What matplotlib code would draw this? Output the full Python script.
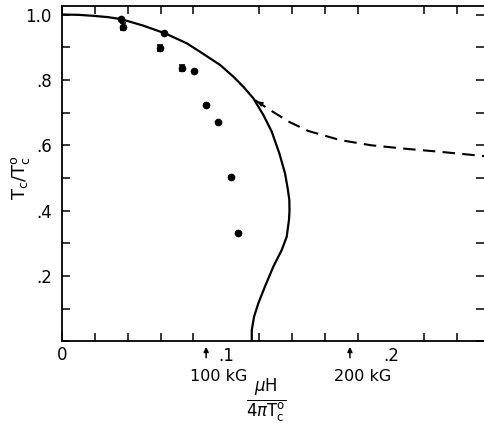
import matplotlib
matplotlib.use("Agg")
import matplotlib.pyplot as plt
from matplotlib.ticker import MultipleLocator, FixedLocator

# measured points
pts_x = [0.036, 0.0623, 0.0805, 0.0878, 0.0947, 0.1028, 0.1069]
pts_y = [0.987, 0.942, 0.827, 0.724, 0.672, 0.504, 0.333]
# points with error bars
err_x = [0.0372, 0.0599, 0.0729]
err_y = [0.963, 0.898, 0.836]
err_e = [0.011, 0.010, 0.010]

# theory curve (solid)
curve_x = [0.0, 0.0100, 0.0192, 0.0280, 0.036, 0.0495, 0.0627, 0.0759, 0.0840,
           0.0961, 0.1042, 0.1103, 0.1163, 0.1224, 0.1275, 0.1321, 0.1356,
           0.1372, 0.1382, 0.1383, 0.1380, 0.1366, 0.1336, 0.1285, 0.1234,
           0.1194, 0.1168, 0.1154, 0.1154]
curve_y = [1.0, 0.999, 0.996, 0.992, 0.986, 0.966, 0.9425, 0.912, 0.886,
           0.846, 0.810, 0.779, 0.744, 0.693, 0.642, 0.576, 0.514,
           0.468, 0.433, 0.400, 0.372, 0.320, 0.280, 0.229, 0.168,
           0.117, 0.076, 0.035, 0.005]

# dashed branch
dash_x = [0.1174, 0.1265, 0.138, 0.1496, 0.169, 0.188, 0.2075, 0.230, 0.2564]
dash_y = [0.738, 0.708, 0.672, 0.644, 0.616, 0.600, 0.590, 0.580, 0.567]

fig = plt.figure(figsize=(4.84, 4.23), dpi=100)
ax = fig.add_axes([0.1275, 0.1927, 0.8725, 0.7931])

ax.plot(curve_x, curve_y, color="black", lw=1.6, solid_joinstyle="round")
ax.plot(dash_x, dash_y, color="black", lw=1.5, ls=(0, (6, 3.5)))
ax.annotate("", xy=(dash_x[0], dash_y[0]), xytext=(0.1215, 0.726),
            arrowprops=dict(arrowstyle="-|>", color="black", lw=1.0,
                            mutation_scale=7))
ax.plot(pts_x, pts_y, "o", color="black", ms=4.5)
ax.errorbar(err_x, err_y, yerr=err_e, fmt="o", color="black", ms=4.5,
            capsize=2.5, elinewidth=1.2, capthick=1.2)

ax.set_xlim(0, 0.2564)
ax.set_ylim(0, 1.026)

ax.xaxis.set_major_locator(FixedLocator([0.1, 0.2]))
ax.xaxis.set_minor_locator(MultipleLocator(0.02))
ax.yaxis.set_major_locator(FixedLocator([0.2, 0.4, 0.6, 0.8, 1.0]))
ax.yaxis.set_minor_locator(MultipleLocator(0.1))
ax.set_xticklabels([".1", ".2"])
ax.set_yticklabels([".2", ".4", ".6", ".8", "1.0"])
ax.tick_params(which="both", direction="in", top=True, right=True,
               length=6, width=1.1, labelsize=12, pad=7)
ax.tick_params(axis="x", which="major", length=0, pad=4)
ax.tick_params(axis="x", which="minor", length=6)
ax.text(0, -0.015, "0", ha="center", va="top", fontsize=12,
        transform=ax.transData)
ax.spines["right"].set_visible(False)
for s in ["left", "bottom", "top"]:
    ax.spines[s].set_linewidth(1.3)

# field markers
for fx, lab in [(0.0877, "100 kG"), (0.175, "200 kG")]:
    ax.annotate("", xy=(fx, -0.008), xytext=(fx, -0.058),
                xycoords="data", textcoords="data",
                arrowprops=dict(arrowstyle="-|>", color="black", lw=1.1,
                                mutation_scale=7), annotation_clip=False)
    ax.text(fx + 0.0075, -0.085, lab, ha="center", va="top", fontsize=11.5,
            transform=ax.transData)

fig.text(0.55, 0.052, r"$\frac{\mu\mathrm{H}}{4\pi\mathrm{T}_\mathrm{c}^\mathrm{o}}$",
         ha="center", va="center", fontsize=17)
fig.text(0.042, 0.58, r"$\mathrm{T_c/T_c^o}$", ha="center", va="center",
         rotation=90, fontsize=13)

fig.savefig("out.png", dpi=100)
